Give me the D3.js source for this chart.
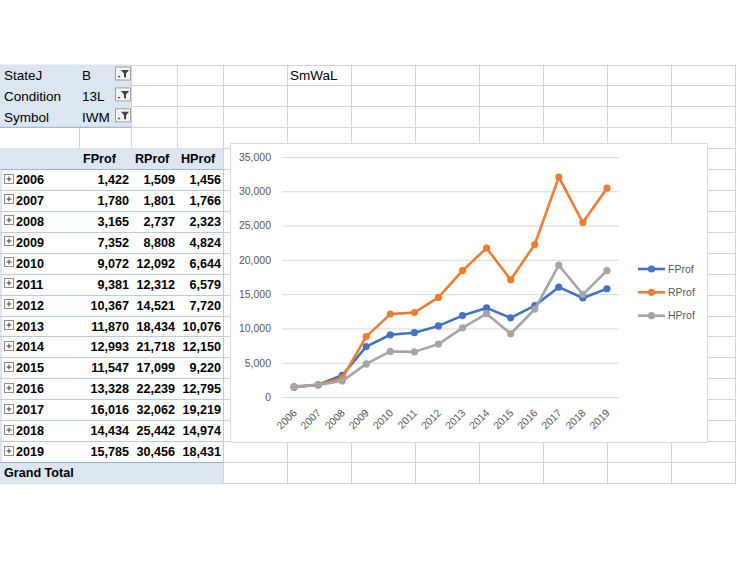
<!DOCTYPE html>
<html>
<head>
<meta charset="utf-8">
<script src="https://cdn.jsdelivr.net/npm/d3@7"></script>
<style>
  html, body { margin: 0; padding: 0; background: #ffffff; }
  svg { display: block; }
  text { font-family: "Liberation Sans", Arial, sans-serif; }
</style>
</head>
<body>
<script>
// ---------- data ----------
const years = ["2006","2007","2008","2009","2010","2011","2012","2013","2014","2015","2016","2017","2018","2019"];
const fprof = [1422,1780,3165,7352,9072,9381,10367,11870,12993,11547,13328,16016,14434,15785];
const rprof = [1509,1801,2737,8808,12092,12312,14521,18434,21718,17099,22239,32062,25442,30456];
const hprof = [1456,1766,2323,4824,6644,6579,7720,10076,12150,9220,12795,19219,14974,18431];
const seriesNames = ["FProf","RProf","HProf"];
const yTicks = [0,5000,10000,15000,20000,25000,30000,35000];
const filterLabels = ["StateJ","Condition","Symbol"];
const filterValues = ["B","13L","IWM"];
const sheetNote = "SmWaL";

// ---------- layout ----------
const W = 736, H = 564;
const colEdges = [0,79,131,177,223,287,351,415,479,543,607,671,735];
const rowTop = 64.5, rowH = 20.92, nRows = 20;
const rowY = i => rowTop + rowH * i;
const blueFill = "#dce6f1", blueLine = "#b8cce4", blueDark = "#95b3d7", gridCol = "#d4d4d4";

const svg = d3.select("body").append("svg").attr("width", W).attr("height", H);

// spreadsheet gridlines
const grid = svg.append("g");
colEdges.slice(1).forEach(x => {
  grid.append("line").attr("x1", x + 0.5).attr("x2", x + 0.5)
    .attr("y1", rowY(0)).attr("y2", rowY(nRows)).attr("stroke", gridCol);
});
d3.range(nRows + 1).forEach(i => {
  grid.append("line").attr("x1", 0).attr("x2", W)
    .attr("y1", Math.round(rowY(i)) + 0.5).attr("y2", Math.round(rowY(i)) + 0.5).attr("stroke", gridCol);
});

// ---------- pivot table ----------
const pv = svg.append("g");
// filter area
pv.append("rect").attr("x", 0).attr("y", rowY(0)).attr("width", colEdges[2]).attr("height", rowH * 3).attr("fill", blueFill);
pv.append("line").attr("x1", 0).attr("x2", colEdges[2]).attr("y1", rowY(3)).attr("y2", rowY(3)).attr("stroke", blueDark);

function filterButton(g, x, y) {
  g.append("rect").attr("x", x + 0.5).attr("y", y + 0.5).attr("width", 15).attr("height", 13)
    .attr("fill", "#f4f4f4").attr("stroke", "#a0a0a0");
  g.append("path").attr("d", `M${x+6},${y+3.5} h8 l-3,3.5 v4.5 l-2,-1.2 v-3.3 z`).attr("fill", "#404040");
  g.append("path").attr("d", `M${x+2.5},${y+9.5} h3 l-1.5,1.8 z`).attr("fill", "#404040");
}
filterLabels.forEach((lab, i) => {
  const cy = rowY(i) + rowH / 2;
  pv.append("text").attr("x", 4).attr("y", cy).attr("dy", "0.36em").attr("font-size", 13.5).attr("fill", "#000").text(lab);
  pv.append("text").attr("x", colEdges[1] + 3).attr("y", cy).attr("dy", "0.36em").attr("font-size", 13.5).attr("fill", "#000").text(filterValues[i]);
  filterButton(pv, 115, rowY(i) + 2);
});
svg.append("text").attr("x", colEdges[5] + 3).attr("y", rowY(0) + rowH / 2).attr("dy", "0.36em")
  .attr("font-size", 13.5).attr("fill", "#000").text(sheetNote);

// header row
const tableW = colEdges[4];
pv.append("rect").attr("x", 0).attr("y", rowY(4)).attr("width", tableW).attr("height", rowH + 1).attr("fill", blueFill);
pv.append("line").attr("x1", 0).attr("x2", tableW).attr("y1", rowY(5) + 0.5).attr("y2", rowY(5) + 0.5).attr("stroke", blueDark);
seriesNames.forEach((s, j) => {
  pv.append("text").attr("x", colEdges[j + 1] + 4).attr("y", rowY(4) + rowH / 2).attr("dy", "0.36em")
    .attr("font-size", 12.6).attr("font-weight", "bold").attr("fill", "#000").text(s);
});

// data rows
const fmt = d3.format(",");
const table = [fprof, rprof, hprof];
pv.append("rect").attr("x", 0).attr("y", rowY(5) + 1).attr("width", tableW).attr("height", rowY(19) - rowY(5) - 1).attr("fill", "#fff");
years.forEach((yr, i) => {
  const r = 5 + i;
  const cy = rowY(r) + rowH / 2;
  if (i > 0) pv.append("line").attr("x1", 0).attr("x2", tableW).attr("y1", Math.round(rowY(r)) + 0.5).attr("y2", Math.round(rowY(r)) + 0.5).attr("stroke", blueLine);
  // expand box
  pv.append("rect").attr("x", 4.5).attr("y", Math.round(cy) - 5.5).attr("width", 9).attr("height", 9).attr("fill", "#fff").attr("stroke", "#8c8c8c");
  pv.append("path").attr("d", `M${6.5},${Math.round(cy)-1} h5 M${9},${Math.round(cy)-3.5} v5`).attr("stroke", "#404040").attr("stroke-width", 1);
  pv.append("text").attr("x", 16).attr("y", cy).attr("dy", "0.36em").attr("font-size", 12.6).attr("font-weight", "bold").attr("fill", "#000").text(yr);
  table.forEach((arr, j) => {
    pv.append("text").attr("x", colEdges[j + 2] - 2).attr("y", cy).attr("dy", "0.36em").attr("text-anchor", "end")
      .attr("font-size", 12.6).attr("font-weight", "bold").attr("fill", "#000").text(fmt(arr[i]));
  });
});
// left and right borders
pv.append("line").attr("x1", 1).attr("x2", 1).attr("y1", rowY(5)).attr("y2", rowY(19)).attr("stroke", blueLine);
pv.append("line").attr("x1", tableW + 0.5).attr("x2", tableW + 0.5).attr("y1", rowY(5)).attr("y2", rowY(19)).attr("stroke", blueLine);
// grand total
pv.append("rect").attr("x", 0).attr("y", rowY(19)).attr("width", tableW).attr("height", rowH).attr("fill", blueFill);
pv.append("line").attr("x1", 0).attr("x2", tableW).attr("y1", Math.round(rowY(19)) + 0.5).attr("y2", Math.round(rowY(19)) + 0.5).attr("stroke", blueDark);
pv.append("text").attr("x", 4).attr("y", rowY(19) + rowH / 2).attr("dy", "0.36em").attr("font-size", 12.6).attr("font-weight", "bold").attr("fill", "#000").text("Grand Total");

// ---------- chart ----------
const ch = svg.append("g");
ch.append("rect").attr("x", 230.5).attr("y", 143.5).attr("width", 477).attr("height", 299).attr("fill", "#fff").attr("stroke", "#d9d9d9");

const x = d3.scaleBand().domain(years).range([282, 619]);
const y = d3.scaleLinear().domain([0, 35000]).range([397, 157]);

const yAxis = ch.append("g").attr("transform", "translate(282,0)")
  .call(d3.axisLeft(y).tickValues(yTicks).tickSize(-(619 - 282)).tickPadding(11).tickFormat(d3.format(",")));
yAxis.select(".domain").remove();
yAxis.selectAll(".tick line").attr("stroke", "#d9d9d9");
yAxis.selectAll(".tick text").attr("font-size", 10.5).attr("fill", "#595959").attr("font-family", "'Liberation Sans', Arial, sans-serif");

const xAxis = ch.append("g").attr("transform", "translate(0,397)").call(d3.axisBottom(x).tickSize(0).tickPadding(0));
xAxis.select(".domain").remove();
xAxis.selectAll(".tick text")
  .attr("font-size", 10.5).attr("fill", "#595959").attr("font-family", "'Liberation Sans', Arial, sans-serif")
  .attr("text-anchor", "end").attr("y", 0).attr("dy", 0)
  .attr("transform", "translate(3.5,16.5) rotate(-45)");

const colors = ["#4472c4", "#ed7d31", "#a5a5a5"];
const seriesData = [fprof, rprof, hprof];
const line = d3.line().x((d, i) => x(years[i]) + x.bandwidth() / 2).y(d => y(d));
seriesData.forEach((arr, k) => {
  const g = ch.append("g");
  g.append("path").datum(arr).attr("d", line).attr("fill", "none").attr("stroke", colors[k])
    .attr("stroke-width", 2.6).attr("stroke-linejoin", "round").attr("stroke-linecap", "round");
  g.selectAll("circle").data(arr).join("circle")
    .attr("cx", (d, i) => x(years[i]) + x.bandwidth() / 2).attr("cy", d => y(d))
    .attr("r", 3.6).attr("fill", colors[k]);
});

// legend
const legY = [269, 292.3, 315.7];
seriesNames.forEach((s, k) => {
  const lg = ch.append("g");
  lg.append("line").attr("x1", 638).attr("x2", 665).attr("y1", legY[k]).attr("y2", legY[k]).attr("stroke", colors[k]).attr("stroke-width", 2.6);
  lg.append("circle").attr("cx", 651.5).attr("cy", legY[k]).attr("r", 3.6).attr("fill", colors[k]);
  lg.append("text").attr("x", 668).attr("y", legY[k]).attr("dy", "0.36em").attr("font-size", 10.5).attr("fill", "#595959").text(s);
});
</script>
</body>
</html>
